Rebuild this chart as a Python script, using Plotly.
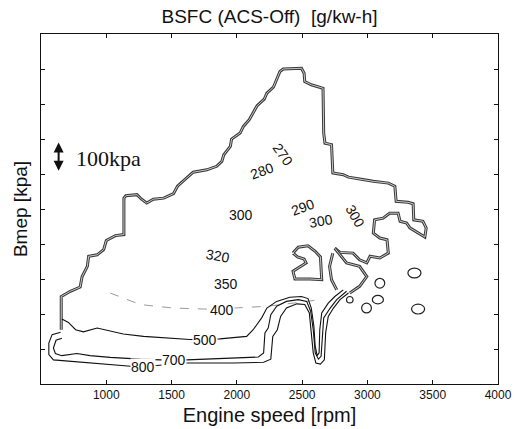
import plotly.graph_objects as go

# ---- data (engine speed [rpm], Bmep [kPa]) ----
outline_rpm = [655, 655, 725, 800, 815, 855, 865, 930, 980, 1000, 1070, 1135, 1135, 1150, 1235,
               1270, 1310, 1360, 1440, 1515, 1545, 1605, 1665, 1770, 1845, 1885, 1900, 1950,
               1960, 2025, 2050, 2095, 2125, 2155, 2210, 2230, 2280, 2305, 2330, 2355, 2495,
               2515, 2520, 2570, 2660, 2665, 2675, 2725, 2735, 2815, 2855, 2965, 3045, 3160,
               3210, 3220, 3310, 3350, 3355, 3425, 3450, 3440, 3390, 3325, 3300, 3250, 3235,
               3170, 3120, 3055, 3045, 3095, 3150, 3160, 3095, 3020, 2995, 2940, 2890, 2790, 2750]
outline_kpa = [155, 250, 265, 277, 307, 336, 365, 369, 384, 410, 424, 427, 531, 538, 541,
               528, 517, 528, 531, 544, 565, 584, 605, 612, 622, 636, 655, 679,
               700, 717, 736, 755, 774, 795, 814, 831, 848, 869, 893, 900, 902,
               888, 864, 855, 845, 717, 688, 684, 603, 598, 591, 584, 579, 574,
               565, 522, 519, 515, 469, 465, 446, 420, 431, 446, 460, 465, 488,
               488, 474, 469, 431, 417, 412, 374, 360, 365, 346, 355, 374, 376, 388]

rough1_rpm = [2750, 2840, 2940, 2995, 2940, 2865]
rough1_kpa = [388, 346, 336, 307, 279, 260]
rough2_rpm = [2735, 2710, 2725, 2765]
rough2_kpa = [374, 336, 298, 269]

blob_rpm = [2430, 2470, 2545, 2600, 2640, 2650, 2560, 2445, 2430, 2485, 2530, 2515, 2465, 2430]
blob_kpa = [374, 391, 395, 379, 363, 298, 300, 300, 322, 336, 346, 357, 363, 374]

c800_rpm = [650, 585, 560, 560, 595, 750, 1030, 1210, 1385, 1615, 1975, 2205, 2260, 2275, 2310,
            2335, 2380, 2460, 2520, 2555, 2570, 2585, 2605, 2640, 2670, 2680, 2700, 2740, 2790, 2855]
c800_kpa = [148, 141, 117, 84, 69, 64, 57, 50, 53, 60, 60, 62, 71, 136, 155,
            193, 217, 229, 227, 203, 146, 89, 60, 57, 69, 146, 193, 217, 241, 260]

c700_rpm = [660, 615, 595, 610, 660, 775, 875, 1030, 1260, 1415, 1615, 1975, 2165, 2205, 2215,
            2240, 2260, 2305, 2380, 2470, 2535, 2565, 2585, 2600, 2625, 2645, 2655, 2665, 2715,
            2765, 2840]
c700_kpa = [131, 125, 103, 87, 81, 87, 81, 76, 71, 69, 69, 73, 77, 89, 146,
            160, 198, 222, 236, 241, 236, 208, 155, 89, 71, 79, 146, 189, 217,
            241, 265]

c500_rpm = [660, 710, 765, 825, 930, 1030, 1130, 1285, 1465, 1640, 1870, 2075, 2125, 2190, 2230,
            2305, 2405, 2495, 2545, 2570, 2590, 2600, 2615, 2630, 2635, 2650, 2700, 2750, 2815]
c500_kpa = [186, 176, 155, 149, 160, 152, 143, 136, 131, 127, 129, 136, 155, 189, 217,
            236, 248, 250, 244, 217, 165, 108, 81, 89, 155, 203, 231, 250, 269]

c400_rpm = [1030, 1260, 1515, 1770, 1975, 2230, 2430, 2635]
c400_kpa = [260, 227, 217, 214, 217, 222, 231, 241]

island_rpm = [3360, 3388, 3095, 3080, 2993, 2865]
island_kpa = [317, 214, 288, 241, 217, 241]
island_wr = [100, 100, 75, 85, 75, 50]
island_hk = [28, 28, 28, 24, 28, 18]

label_text = ["270", "280", "300", "290", "300", "300", "320", "350", "400", "500", "700", "800"]
label_rpm = [2356, 2190, 2029, 2509, 2641, 2904, 1859, 1915, 1884, 1757, 1515, 1280]
label_kpa = [655, 610, 484, 506, 467, 479, 365, 286, 212, 125, 68, 50]
label_angle = [55, -20, 0, -20, -10, 60, 10, 0, 0, 0, 0, 0]

x_ticks = [1000, 1500, 2000, 2500, 3000, 3500, 4000]
y_ticks = [100, 200, 300, 400, 500, 600, 700, 800, 900, 1000]

fig = go.Figure()


def add_line(xs, ys, color, width, dash="solid"):
    fig.add_trace(go.Scatter(x=xs, y=ys, mode="lines",
                             line=dict(color=color, width=width, dash=dash),
                             hoverinfo="skip", showlegend=False))


# boundary (scanned double grey line look)
for xs, ys in [(outline_rpm, outline_kpa), (rough1_rpm, rough1_kpa),
               (rough2_rpm, rough2_kpa), (blob_rpm, blob_kpa)]:
    add_line(xs, ys, "#3a3a3a", 3)
    add_line(xs, ys, "#c8c8c8", 1)

add_line(c400_rpm, c400_kpa, "#9a9a9a", 1, "dash")
add_line(c500_rpm, c500_kpa, "#111111", 1.1)
add_line(c700_rpm, c700_kpa, "#111111", 1.1)
add_line(c800_rpm, c800_kpa, "#111111", 1.1)

for r, k, w, h in zip(island_rpm, island_kpa, island_wr, island_hk):
    fig.add_shape(type="circle", xref="x", yref="y",
                  x0=r - w / 2, x1=r + w / 2, y0=k - h / 2, y1=k + h / 2,
                  line=dict(color="#222222", width=1.2))

for t, r, k, a in zip(label_text, label_rpm, label_kpa, label_angle):
    fig.add_annotation(x=r, y=k, text=t, showarrow=False, textangle=a,
                       font=dict(family="Arial, Liberation Sans", size=14, color="#111111"),
                       bgcolor="white", borderpad=0)

# 100 kPa scale arrow
fig.add_annotation(x=635, y=690, ax=635, ay=605, xref="x", yref="y", axref="x", ayref="y",
                   text="", showarrow=True, arrowhead=2, arrowside="end+start",
                   arrowwidth=2, arrowsize=1, arrowcolor="#111111")
fig.add_annotation(x=1020, y=645, text="100kpa", showarrow=False,
                   font=dict(family="Liberation Serif, Times New Roman", size=22, color="#111111"))

fig.update_layout(
    width=530, height=429,
    margin=dict(l=41, r=32, t=34, b=45),
    paper_bgcolor="white", plot_bgcolor="white",
    title=dict(text="BSFC (ACS-Off)\u00a0 [g/kw-h]", x=0.5, xref="paper", y=0.962,
               yanchor="middle", xanchor="center",
               font=dict(family="Arial, Liberation Sans", size=19, color="#111111")),
    xaxis=dict(range=[500, 4000], tickvals=x_ticks, ticktext=[str(v) for v in x_ticks],
               ticks="inside", ticklen=4, tickcolor="#111111", mirror="ticks",
               showline=True, linecolor="#111111", linewidth=1, showgrid=False, zeroline=False,
               tickfont=dict(family="Arial, Liberation Sans", size=12, color="#111111"),
               title=dict(text="Engine speed [rpm]", standoff=6,
                          font=dict(family="Arial, Liberation Sans", size=20, color="#111111")),
               automargin=False),
    yaxis=dict(range=[0, 1000], tickvals=y_ticks, showticklabels=False,
               ticks="inside", ticklen=4, tickcolor="#111111", mirror="ticks",
               showline=True, linecolor="#111111", linewidth=1, showgrid=False, zeroline=False,
               title=dict(text="Bmep [kpa]", standoff=7,
                          font=dict(family="Arial, Liberation Sans", size=19, color="#111111")),
               automargin=False),
)

fig.write_html("out.html")
